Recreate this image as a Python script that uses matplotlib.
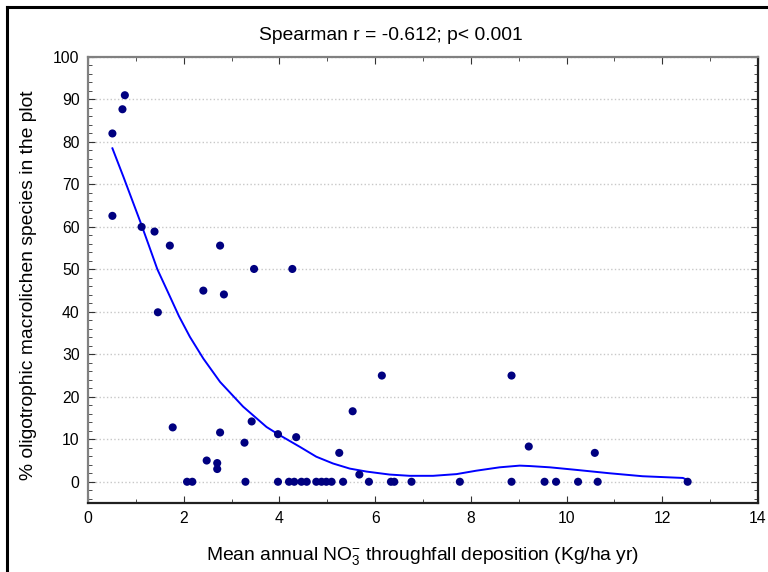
import matplotlib
matplotlib.use("Agg")
import matplotlib.pyplot as plt
from matplotlib.ticker import MultipleLocator
from matplotlib.lines import Line2D

plt.rcParams['font.family'] = ['Liberation Sans', 'DejaVu Sans']
plt.rcParams['mathtext.fontset'] = 'custom'
plt.rcParams['mathtext.rm'] = 'Liberation Sans'
plt.rcParams['mathtext.it'] = 'Liberation Sans'

# points
no3 = [0.77, 0.72, 0.51, 0.51, 1.12, 1.39, 1.71, 2.76, 3.47, 4.27,
       2.41, 2.84, 1.46, 1.77, 2.76, 3.42, 3.27, 3.97, 4.35, 2.48,
       2.70, 2.70, 6.14, 8.85, 5.53, 5.25, 5.67, 9.21, 10.59,
       2.07, 2.18, 3.29, 3.97, 4.20, 4.31, 4.46, 4.57, 4.77, 4.88,
       4.98, 5.09, 5.33, 5.87, 6.33, 6.40, 6.76, 7.77, 8.85, 9.54,
       9.78, 10.24, 10.65, 12.53]
pct = [91.0, 87.7, 82.0, 62.6, 60.0, 58.9, 55.6, 55.6, 50.1, 50.1,
       45.0, 44.1, 39.9, 12.8, 11.6, 14.2, 9.2, 11.2, 10.5, 5.0,
       4.4, 3.0, 25.0, 25.0, 16.6, 6.8, 1.7, 8.3, 6.8,
       0, 0, 0, 0, 0, 0, 0, 0, 0, 0,
       0, 0, 0, 0, 0, 0, 0, 0, 0, 0,
       0, 0, 0, 0]

# smoothed fit line
fit_x = [0.51, 0.74, 0.95, 1.10, 1.26, 1.45, 1.68, 1.90, 2.13, 2.41,
         2.76, 3.24, 3.73, 3.97, 4.43, 4.77, 5.12, 5.47, 5.82, 6.30,
         6.72, 7.21, 7.70, 8.11, 8.60, 9.02, 9.23, 9.65, 10.20, 10.90,
         11.59, 12.43, 12.53]
fit_y = [78.5, 71.8, 65.5, 61.0, 56.0, 50.0, 44.4, 39.0, 34.1, 29.0,
         23.5, 17.7, 12.9, 11.2, 8.2, 5.9, 4.3, 3.1, 2.4, 1.7,
         1.4, 1.4, 1.8, 2.6, 3.4, 3.8, 3.7, 3.4, 2.8, 2.0,
         1.3, 0.9, 0.4]

fig = plt.figure(figsize=(7.68, 5.72), dpi=100)
ax = fig.add_axes([88/768, 1 - 503/572, 670/768, 446/572])

ax.plot(fit_x, fit_y, color='#0000ff', lw=1.4, zorder=2)
ax.scatter(no3, pct, s=34, color='#000080', edgecolors='none', zorder=3)

ax.set_xlim(0, 14)
ax.set_ylim(-5, 100)
ax.xaxis.set_major_locator(MultipleLocator(2))
ax.xaxis.set_minor_locator(MultipleLocator(1))
ax.yaxis.set_major_locator(MultipleLocator(10))
ax.yaxis.set_minor_locator(MultipleLocator(2))
ax.tick_params(which='both', direction='in', top=True, right=True,
               labelsize=11.3, pad=6, colors='#333333', labelcolor='black')
ax.tick_params(which='major', length=5)
ax.tick_params(which='minor', length=3)
ax.grid(axis='y', which='major', linestyle=':', color='#c8c8c8', lw=1)

for side in ['left', 'top']:
    ax.spines[side].set_color('#808080')
    ax.spines[side].set_linewidth(1.6)
for side in ['bottom', 'right']:
    ax.spines[side].set_color('#202020')
    ax.spines[side].set_linewidth(1.6)

# title and axis labels placed in figure pixels
fig.text(391/768, 1 - 36/572, 'Spearman r = -0.612; p< 0.001',
         fontsize=13.9, ha='center', va='center')
fig.text(423/768, 1 - 556/572,
         'Mean annual NO$_3^{-}$ throughfall deposition (Kg/ha yr)',
         fontsize=13.9, ha='center', va='center')
fig.text(29/768, 1 - 285/572, '% oligotrophic macrolichen species in the plot',
         fontsize=13.9, ha='center', va='center', rotation=90)

# outer frame lines (left and top only)
fig.add_artist(Line2D([7/768, 7/768], [0, 1 - 7/572], color='black', lw=2.2,
                      transform=fig.transFigure))
fig.add_artist(Line2D([7/768, 1], [1 - 7/572, 1 - 7/572], color='black', lw=2.2,
                      transform=fig.transFigure))

fig.savefig('out.png', dpi=100)
